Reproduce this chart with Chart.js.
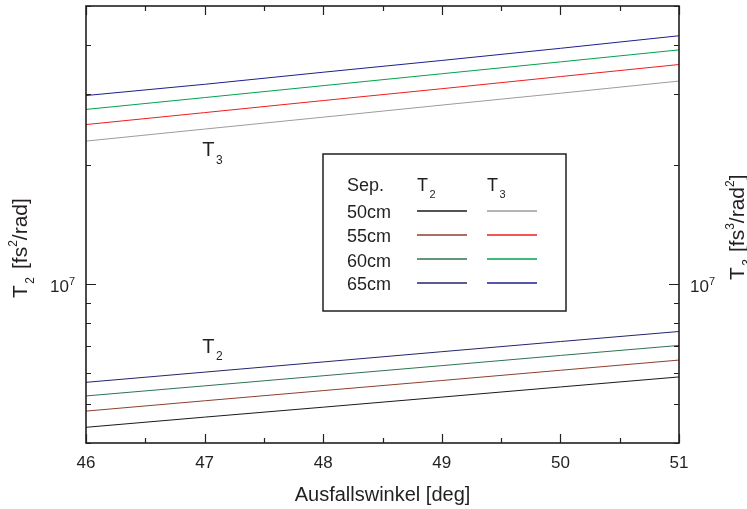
<!DOCTYPE html>
<html>
<head>
<meta charset="utf-8">
<script src="https://cdn.jsdelivr.net/npm/chart.js@4.4.0/dist/chart.umd.min.js"></script>
<style>
  html, body { margin: 0; padding: 0; background: #fff; }
  #wrap { width: 747px; height: 509px; }
</style>
</head>
<body>
<div id="wrap"><canvas id="chart"></canvas></div>
<script>
const FONT = '"Liberation Sans", Arial, Helvetica, sans-serif';
const INK = '#231f20';

// angle of exit (deg)
const angles = [46, 47, 48, 49, 50, 51];
const separations = ['50cm', '55cm', '60cm', '65cm'];

// T2 in fs^2/rad
const t2_50 = [4.38e6, 4.645e6, 4.92e6, 5.215e6, 5.53e6, 5.86e6];
const t2_55 = [4.81e6, 5.105e6, 5.415e6, 5.74e6, 6.09e6, 6.46e6];
const t2_60 = [5.25e6, 5.565e6, 5.90e6, 6.255e6, 6.635e6, 7.03e6];
const t2_65 = [5.68e6, 6.025e6, 6.39e6, 6.78e6, 7.19e6, 7.62e6];

// T3 in fs^3/rad^2
const t3_50 = [2.29e7, 2.455e7, 2.63e7, 2.82e7, 3.02e7, 3.24e7];
const t3_55 = [2.52e7, 2.70e7, 2.895e7, 3.10e7, 3.325e7, 3.565e7];
const t3_60 = [2.75e7, 2.945e7, 3.155e7, 3.38e7, 3.62e7, 3.88e7];
const t3_65 = [2.98e7, 3.18e7, 3.41e7, 3.65e7, 3.915e7, 4.21e7];

const t2Colors = ['#1a1a1a', '#8c3f2e', '#2f7352', '#24246e'];
const t3Colors = ['#9c9c9c', '#f01c1c', '#00a24c', '#1e1e8e'];

const xMajor = [46, 47, 48, 49, 50, 51];
const xMinor = [46.5, 47.5, 48.5, 49.5, 50.5];
const yTicks = [4e6, 5e6, 6e6, 7e6, 8e6, 9e6, 1e7, 2e7, 3e7, 4e7, 5e7];
const yLabelValue = 1e7;

function series(values, color) {
  return {
    data: angles.map((a, i) => ({ x: a, y: values[i] })),
    borderColor: color,
    borderWidth: 1,
    pointRadius: 0,
    tension: 0,
    fill: false
  };
}

const t2Sets = [t2_50, t2_55, t2_60, t2_65].map((v, i) => series(v, t2Colors[i]));
const t3Sets = [t3_50, t3_55, t3_60, t3_65].map((v, i) => series(v, t3Colors[i]));

// draws "T" with a lowered index, returns the end x
function drawIndexed(ctx, x, y, base, idx, size, idxSize, drop) {
  ctx.font = size + 'px ' + FONT;
  ctx.fillText(base, x, y);
  const w = ctx.measureText(base).width;
  ctx.font = idxSize + 'px ' + FONT;
  ctx.fillText(idx, x + w + 1.5, y + drop);
  return x + w + 1.5 + ctx.measureText(idx).width;
}

// text runs: [text, size, shift]
function drawRuns(ctx, x, y, runs) {
  runs.forEach(r => {
    ctx.font = r[1] + 'px ' + FONT;
    ctx.fillText(r[0], x, y + r[2]);
    x += ctx.measureText(r[0]).width;
  });
  return x;
}

const framePlugin = {
  id: 'frame',
  afterDraw(chart) {
    const { ctx, chartArea: a } = chart;
    const xs = chart.scales.x, ys = chart.scales.y;
    ctx.save();
    ctx.strokeStyle = INK;
    ctx.fillStyle = INK;

    // inward ticks on all four sides
    ctx.lineWidth = 1.2;
    ctx.beginPath();
    const xTick = (v, len) => {
      const px = Math.round(xs.getPixelForValue(v)) + 0.5;
      ctx.moveTo(px, a.bottom); ctx.lineTo(px, a.bottom - len);
      ctx.moveTo(px, a.top); ctx.lineTo(px, a.top + len);
    };
    xMajor.forEach(v => xTick(v, 9));
    xMinor.forEach(v => xTick(v, 5));
    yTicks.forEach(v => {
      const py = Math.round(ys.getPixelForValue(v)) + 0.5;
      const len = v === yLabelValue ? 10 : 5;
      ctx.moveTo(a.left, py); ctx.lineTo(a.left + len, py);
      ctx.moveTo(a.right, py); ctx.lineTo(a.right - len, py);
    });
    ctx.stroke();

    ctx.lineWidth = 1.6;
    ctx.strokeRect(a.left, a.top, a.right - a.left, a.bottom - a.top);

    // decade labels on both sides
    const py = ys.getPixelForValue(yLabelValue);
    ctx.textBaseline = 'alphabetic';
    ctx.textAlign = 'left';
    [a.left - 36, a.right + 11].forEach(x0 => {
      drawRuns(ctx, x0, py + 8, [['10', 17, 0], ['7', 11, -7]]);
    });

    // axis titles, rotated
    ctx.save();
    ctx.translate(27, 298);
    ctx.rotate(-Math.PI / 2);
    let e = drawIndexed(ctx, 0, 0, 'T', '2', 21, 12, 7);
    drawRuns(ctx, e + 8, 0, [['[fs', 21, 0], ['2', 12, -10], ['/rad]', 21, 0]]);
    ctx.restore();

    ctx.save();
    ctx.translate(744, 280);
    ctx.rotate(-Math.PI / 2);
    e = drawIndexed(ctx, 0, 0, 'T', '3', 21, 12, 7);
    drawRuns(ctx, e + 7, 0, [['[fs', 21, 0], ['3', 12, -10], ['/rad', 21, 0], ['2', 12, -10], [']', 21, 0]]);
    ctx.restore();

    // curve family labels
    drawIndexed(ctx, xs.getPixelForValue(46.98), ys.getPixelForValue(2.105e7), 'T', '3', 20, 12, 8);
    drawIndexed(ctx, xs.getPixelForValue(46.98), ys.getPixelForValue(6.71e6), 'T', '2', 20, 12, 7);

    // legend table
    const L = { left: 323, top: 154, right: 566, bottom: 311 };
    ctx.lineWidth = 1.5;
    ctx.strokeRect(L.left, L.top, L.right - L.left, L.bottom - L.top);
    ctx.font = '18px ' + FONT;
    ctx.fillText('Sep.', 347, 190.5);
    drawIndexed(ctx, 417, 190.5, 'T', '2', 18, 11, 7);
    drawIndexed(ctx, 487, 190.5, 'T', '3', 18, 11, 7);
    const rowText = [218, 242, 266.5, 290];
    const rowLine = [211, 235, 259, 283];
    separations.forEach((s, i) => {
      ctx.font = '18px ' + FONT;
      ctx.fillStyle = INK;
      ctx.fillText(s, 347, rowText[i]);
      ctx.lineWidth = 1.5;
      ctx.strokeStyle = t2Colors[i];
      ctx.beginPath(); ctx.moveTo(417, rowLine[i]); ctx.lineTo(467, rowLine[i]); ctx.stroke();
      ctx.strokeStyle = t3Colors[i];
      ctx.beginPath(); ctx.moveTo(487, rowLine[i]); ctx.lineTo(537, rowLine[i]); ctx.stroke();
    });
    ctx.restore();
  }
};

const logAxis = (position, width) => ({
  type: 'logarithmic',
  position,
  min: 4e6,
  max: 5e7,
  grid: { display: false },
  border: { display: false },
  ticks: { display: false },
  afterBuildTicks: s => { s.ticks = yTicks.map(v => ({ value: v })); },
  afterFit: s => { s.width = width; }
});

new Chart(document.getElementById('chart'), {
  type: 'line',
  data: { datasets: [...t2Sets, ...t3Sets] },
  options: {
    responsive: true,
    maintainAspectRatio: false,
    animation: false,
    devicePixelRatio: 1,
    layout: { padding: { top: 6, left: 0, right: 0, bottom: 0 } },
    plugins: { legend: { display: false }, tooltip: { enabled: false } },
    scales: {
      x: {
        type: 'linear',
        position: 'bottom',
        min: 46,
        max: 51,
        grid: { display: false },
        border: { display: false },
        ticks: {
          stepSize: 1,
          maxRotation: 0,
          padding: 2,
          color: INK,
          font: { family: FONT, size: 17 }
        },
        title: {
          display: true,
          text: 'Ausfallswinkel [deg]',
          color: INK,
          font: { family: FONT, size: 20 },
          padding: { top: 0, bottom: 2 }
        },
        afterFit: s => { s.height = 66; }
      },
      y: logAxis('left', 86),
      y2: logAxis('right', 68)
    }
  },
  plugins: [framePlugin]
});
</script>
</body>
</html>
